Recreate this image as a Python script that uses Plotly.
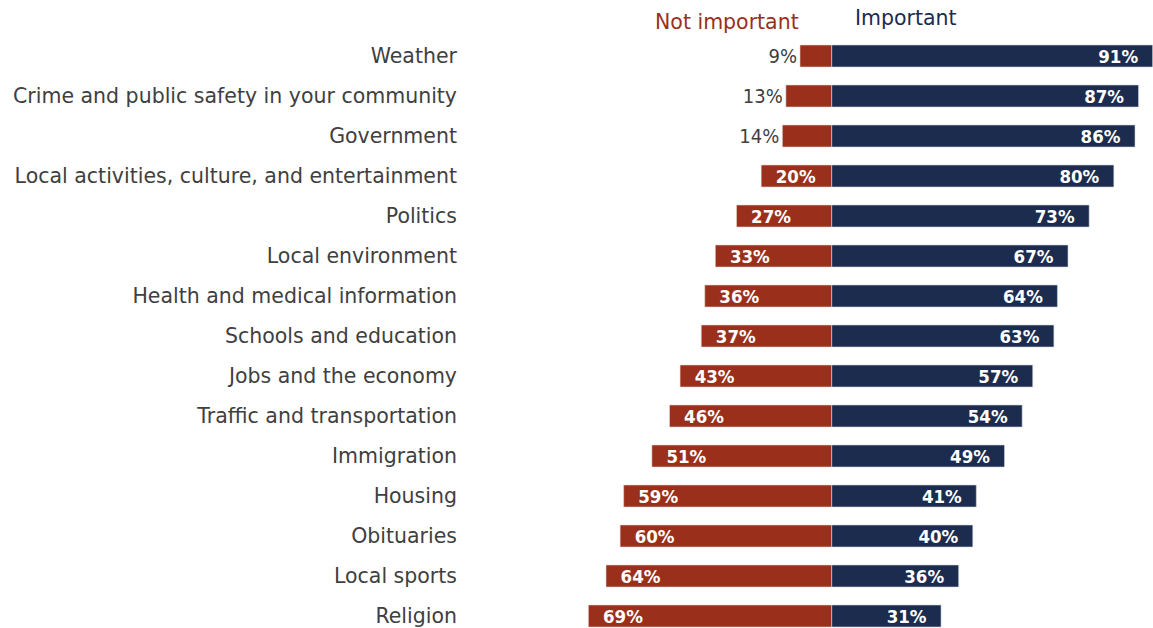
import plotly.graph_objects as go

topics = [
    "Weather",
    "Crime and public safety in your community",
    "Government",
    "Local activities, culture, and entertainment",
    "Politics",
    "Local environment",
    "Health and medical information",
    "Schools and education",
    "Jobs and the economy",
    "Traffic and transportation",
    "Immigration",
    "Housing",
    "Obituaries",
    "Local sports",
    "Religion",
]
not_important = [9, 13, 14, 20, 27, 33, 36, 37, 43, 46, 51, 59, 60, 64, 69]
important = [91, 87, 86, 80, 73, 67, 64, 63, 57, 54, 49, 41, 40, 36, 31]

RED = "#9a301c"
NAVY = "#1c2c4e"
GREY = "#404040"
FONT = "DejaVu Sans, sans-serif"
FONT_NUM = "DejaVu Sans Condensed, DejaVu Sans, sans-serif"
PAD = "\u00a0\u00a0"

# small "not important" shares sit outside their bar in grey
red_outside = [v < 15 for v in not_important]
red_text = [f"{v}%" if out else f"{PAD}{v}%" for v, out in zip(not_important, red_outside)]

fig = go.Figure()

fig.add_trace(go.Bar(
    y=topics,
    x=[-v for v in not_important],
    orientation="h",
    marker=dict(color=RED, line=dict(color="#e6d6d2", width=0.6)),
    width=0.55,
    text=red_text,
    textposition=["outside" if out else "inside" for out in red_outside],
    insidetextanchor="end",
    constraintext="none",
    insidetextfont=dict(color="white", size=18.5, family=FONT_NUM, weight="bold"),
    outsidetextfont=dict(color=GREY, size=20, family=FONT_NUM),
    cliponaxis=False,
    hoverinfo="skip",
    name="Not important",
))

fig.add_trace(go.Bar(
    y=topics,
    x=important,
    orientation="h",
    marker=dict(color=NAVY, line=dict(color="#d4d8df", width=0.6)),
    width=0.55,
    text=[f"{v}%{PAD}" for v in important],
    textposition="inside",
    insidetextanchor="end",
    constraintext="none",
    insidetextfont=dict(color="white", size=18.5, family=FONT_NUM, weight="bold"),
    cliponaxis=False,
    hoverinfo="skip",
    name="Important",
))

fig.add_annotation(x=-8.8, y=1.0236, xref="x", yref="paper", text="Not important",
                   showarrow=False, xanchor="right", yanchor="middle",
                   font=dict(color=RED, size=20.5, family=FONT))
fig.add_annotation(x=5.9, y=1.031, xref="x", yref="paper", text="Important",
                   showarrow=False, xanchor="left", yanchor="middle",
                   font=dict(color=NAVY, size=20.5, family=FONT))

fig.update_layout(
    width=1153, height=628,
    margin=dict(l=466, r=0, t=36, b=0),
    paper_bgcolor="white", plot_bgcolor="white",
    barmode="relative",
    showlegend=False,
    font=dict(family=FONT, color=GREY),
    xaxis=dict(range=[-103.7, 91.1], visible=False, fixedrange=True),
    yaxis=dict(range=[14.3, -0.5], showgrid=False, zeroline=False, showline=False,
               ticks="", tickfont=dict(size=20.5, color=GREY, family=FONT),
               ticklabelstandoff=8, fixedrange=True),
)

fig.write_html("out.html")
